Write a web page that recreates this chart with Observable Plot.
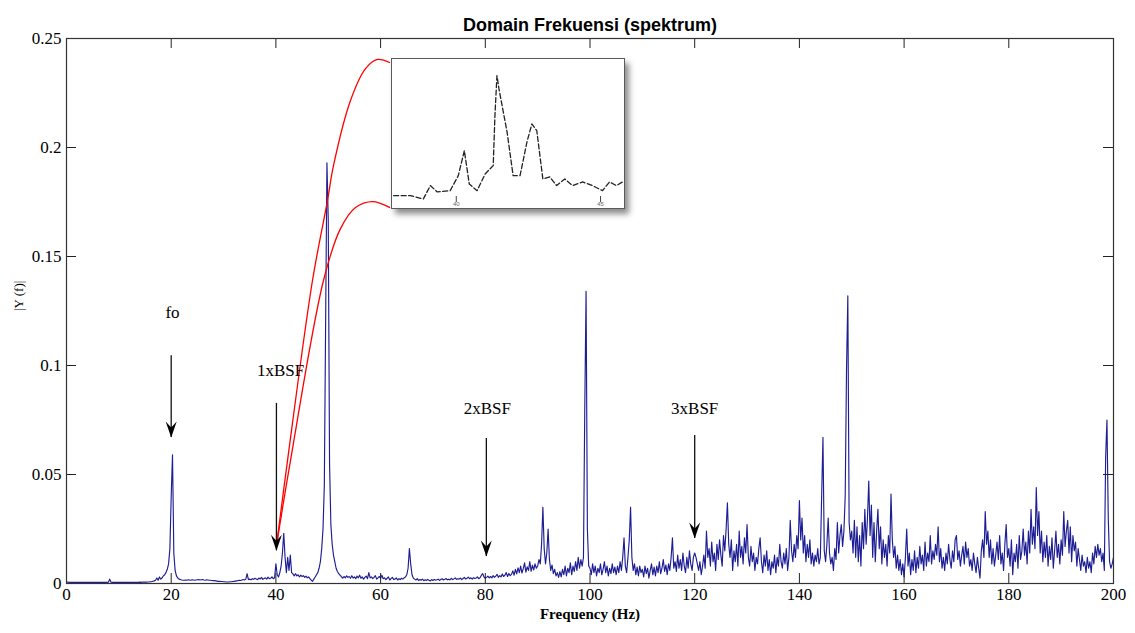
<!DOCTYPE html>
<html><head><meta charset="utf-8">
<script src="https://cdn.jsdelivr.net/npm/d3@7"></script>
<script src="https://cdn.jsdelivr.net/npm/@observablehq/plot@0.6"></script>
<style>
html,body{margin:0;padding:0;background:#fff;}
#wrap{position:relative;width:1135px;height:633px;overflow:hidden;background:#fff;}
#main svg{display:block}
#inset{position:absolute;left:391px;top:58px;width:232px;height:149px;border:1.5px solid #5a5a5a;background:#fff;box-shadow:4px 5px 6px rgba(0,0,0,0.45);}
#inset svg{display:block}
</style></head><body>
<div id="wrap"><div id="main"></div><div id="inset"></div></div>
<script>
// ---------- data ----------
const titleText = "Domain Frekuensi (spektrum)";
const xLabel = "Frequency (Hz)";
const yLabel = "|Y (f)|";
const xTicks = [0, 20, 40, 60, 80, 100, 120, 140, 160, 180, 200];
const yTicks = [0, 0.05, 0.1, 0.15, 0.2, 0.25];

// spectrum amplitude |Y(f)| in units of 1e-3, sampled every 0.25 Hz from 0 to 200 Hz
const freqStep = 0.25;
const ampMilli = [
  0.8,0.6,0.5,0.5,0.5,0.5,0.5,0.5,0.5,0.5,0.5,0.5,0.5,0.5,0.5,0.5,0.5,0.5,0.5,0.5, // 0
  0.5,0.5,0.5,0.5,0.5,0.5,0.5,0.5,0.5,0.5,0.5,0.5,0.6,2.0,0.6,0.5,0.5,0.5,0.5,0.5, // 5
  0.5,0.5,0.5,0.5,0.5,0.5,0.5,0.5,0.5,0.5,0.5,0.5,0.5,0.5,0.5,0.5,0.6,0.5,0.6,0.6, // 10
  0.6,0.6,0.7,0.7,0.8,0.8,1.0,1.2,1.5,2.5,1.5,3.0,2.0,2.5,3.5,4.0,5.0,6.5,9.0,16, // 15
  40,59,14,6,3.5,2.5,2.0,1.8,1.6,1.5,1.5,1.6,1.5,1.7,1.6,1.5,1.7,1.6,1.5,1.6, // 20
  1.7,1.8,1.6,1.7,1.8,1.6,1.5,1.7,1.6,1.5,1.5,1.4,1.3,1.3,1.2,1.1,1.0,1.0,0.9,0.9, // 25
  0.8,0.8,0.7,0.7,0.7,0.8,0.8,0.9,1.0,1.1,1.2,1.3,1.5,1.4,1.6,1.8,1.6,2.0,4.5,1.8, // 30
  2.0,1.7,2.2,1.9,2.4,2.0,1.8,2.5,2.1,2.8,1.9,2.3,2.6,2.0,2.9,2.2,2.4,3.0,2.2,2.6, // 35
  9,4,3,5,8,14,23,12,5,12,6,13,5,4.5,3.5,4.5,3.5,4,3,3.8, // 40
  3.2,3.6,2.8,3.4,2.6,3.0,2.2,1.5,1.0,2.0,3.0,4.0,5.0,7.0,10,16,25,45,120,193, // 45
  167,55,27,18,13,10,7,5.5,4.5,3.8,3.2,2.5,3.2,2.6,3.5,2.8,3.2,2.4,3.6,2.5, // 50
  3.0,2.2,3.4,2.6,3.8,2.4,3.0,2.0,2.8,3.4,2.2,5.0,2.6,3.0,2.2,2.8,3.6,2.0,2.6,3.2, // 55
  2.4,3.8,2.2,2.6,1.8,2.4,3.0,1.6,2.2,2.8,1.8,2.0,2.6,1.6,2.2,1.8,2.4,2.0,2.6,3.0, // 60
  4,7,16,9,4,2.5,2,1.6,2.2,1.4,1.8,1.5,2.0,1.3,1.7,1.4,1.9,1.5,1.2,1.8, // 65
  1.4,1.9,1.5,1.7,2.0,1.4,1.8,2.2,1.6,1.9,2.3,1.7,2.0,1.6,2.4,1.8,2.1,2.6,1.9,2.2, // 70
  2.0,2.5,1.8,2.3,2.8,2.0,2.4,2.9,2.2,2.6,2.0,2.7,2.3,2.5,3.0,2.2,2.6,3.8,4.5,3.0, // 75
  2.4,2.8,3.4,2.6,3.2,2.6,3.6,2.8,3.4,4.2,2.8,3.6,3.0,4.4,3.2,3.8,5.0,3.2,4.6,3.6, // 80
  4.2,5.8,3.8,6.5,4.4,7.2,5.0,8.0,4.8,6.8,9.5,5.2,7.6,6.0,10,5.6,8.4,6.2,9.0,7.0, // 85
  8,11,9,18,35,16,9,14,25,11,6,8.5,4.5,6.5,3.5,5,2.8,5.5,3.0,6.5, // 90
  4,8,3.5,7,5,9.5,4,8,5.5,10,6,12,7,11,8,12,80,134,25,8, // 95
  7,4,9,5,8,3.5,7,5,9,4,6.5,10,5,8,3.5,7,4.5,9,5,7.5, // 100
  4,8,5,10,6,12,21,8,5,12,20,35,12,6,9,4,7.5,3.5,8,5, // 105
  6.5,3,8,4.5,7,2.5,6,9,4,7.5,3.5,8,5,10,4.5,7,11,5.5,8.5,4, // 110
  9,6,12,21,7,10,5.5,13,7,11,6,14,8,5,12,7,15,9,6,12, // 115
  14,12,9,6,10,4,8,13,7,24,12,16,8,19,10,14,6,18,11,20, // 120
  13,8,22,15,25,37,18,12,20,6,15,10,18,8,24,12,17,9,21,14, // 125
  27,12,8,17,10,14,6,12,9,16,21,10,5,13,8,15,6,11,4,10, // 130
  7,13,5,12,8,18,10,7,14,9,16,6,12,29,15,10,18,12,22,16, // 135
  38,20,30,14,22,10,18,12,20,9,14,8,13,10,16,9,12,40,67,15, // 140
  10,18,30,14,9,12,6,16,11,28,14,22,27,17,24,40,98,132,28,20, // 145
  24,14,29,12,26,10,22,8,28,16,34,18,30,47,22,36,12,28,10,24, // 150
  34,16,26,9,20,12,18,8,22,14,41,20,12,17,7,13,6,11,4,9, // 155
  3,12,25,8,14,4,11,6,15,5,12,7,17,9,13,6,19,8,14,10, // 160
  22,9,15,11,18,13,26,10,16,7,12,6,14,9,18,11,7,15,10,20, // 165
  22,11,15,8,13,17,9,19,12,16,8,11,6,14,9,5,12,7,2.5,15, // 170
  20,12,33,18,24,12,20,9,16,8,13,19,11,22,9,14,6,18,27,12, // 175
  16,8,20,4,14,10,18,7,22,11,15,25,13,19,9,24,14,34,18,26, // 180
  16,44,22,33,14,24,10,19,12,22,8,17,11,21,7,15,24,12,18,9, // 185
  20,13,33,17,24,29,14,26,10,22,15,19,8,16,11,6,13,8,10,5, // 190
  12,7,10,5,14,9,17,12,18,13,16,10,14,6,58,75,30,10,7,9, // 195
  12 // 200
];

// annotation arrows
const arrowLabels = ["fo", "1xBSF", "2xBSF", "3xBSF"];
const arrowFreq = [20, 40.1, 80.2, 120];
const arrowStart = [0.1045, 0.0826, 0.0665, 0.0679];
const arrowTip = [0.067, 0.015, 0.0124, 0.0206];
const labelFreq = [20.25, 40.9, 80.4, 120];
const labelAmp = [0.1243, 0.0977, 0.0803, 0.0803];

// red connector curves (to the zoom inset)
const redUpperFreq = [40.11, 42.22, 46.99, 49.86, 51.0, 54.25, 57.12, 59.41, 61.70];
const redUpperAmp = [0.0174, 0.0564, 0.1390, 0.1757, 0.1917, 0.2216, 0.2362, 0.2404, 0.2390];
const redLowerFreq = [40.11, 42.79, 49.09, 52.34, 55.21, 58.45, 61.70];
const redLowerAmp = [0.0174, 0.0564, 0.1390, 0.1628, 0.1725, 0.1752, 0.1725];

// zoom inset (around 38–46 Hz)
const insetFreq = [37.83,38.41,38.86,39.10,39.34,39.79,40.07,40.28,40.45,40.72,41.0,41.28,41.34,41.41,41.48,41.76,41.97,42.21,42.45,42.62,42.79,43.0,43.24,43.48,43.76,44.03,44.38,44.72,45.07,45.31,45.55,45.76];
const insetAmp = [0.00115,0.00115,0.00055,0.00298,0.00183,0.00206,0.0048,0.00936,0.00329,0.00206,0.00511,0.00663,0.01575,0.02306,0.02063,0.01278,0.0048,0.0048,0.01095,0.01424,0.01302,0.0042,0.00456,0.00298,0.0042,0.00298,0.00365,0.00298,0.00206,0.00365,0.00298,0.00365];
const insetTicks = [40, 45];

// ---------- build ----------
const W = 1135, H = 633;
const mL = 66, mR = 22, mT = 38, mB = 50;
const plotW = W - mL - mR, plotH = H - mT - mB;
const tickLen = 10;

const spectrum = ampMilli.map((a, i) => ({f: i * freqStep, amp: a / 1000}));
const arrows = arrowLabels.map((t, i) => ({t, f: arrowFreq[i], y0: arrowStart[i], y1: arrowTip[i], lf: labelFreq[i], la: labelAmp[i]}));
const redUpper = redUpperFreq.map((f, i) => ({f, a: redUpperAmp[i]}));
const redLower = redLowerFreq.map((f, i) => ({f, a: redLowerAmp[i]}));
const inset = insetFreq.map((f, i) => ({f, a: insetAmp[i]}));

const arrowHead = {
  draw(ctx) {
    ctx.moveTo(0, 0);
    ctx.lineTo(-5.5, -16);
    ctx.lineTo(0, -10);
    ctx.lineTo(5.5, -16);
    ctx.closePath();
  }
};

const serif = "'Liberation Serif','Times New Roman',serif";
const sans = "'Liberation Sans',Arial,sans-serif";

const main = Plot.plot({
  width: W, height: H,
  marginLeft: mL, marginRight: mR, marginTop: mT, marginBottom: mB,
  style: {fontFamily: serif, fontSize: "17px", color: "#000", background: "#fff"},
  x: {type: "linear", domain: [0, 200]},
  y: {type: "linear", domain: [0, 0.25]},
  marks: [
    Plot.line(spectrum, {x: "f", y: "amp", stroke: "#1e1e94", strokeWidth: 1.15}),
    // inward ticks on all four sides
    Plot.ruleX(xTicks, {x: d => d, insetTop: plotH - tickLen, stroke: "#222", strokeWidth: 1}),
    Plot.ruleX(xTicks, {x: d => d, insetBottom: plotH - tickLen, stroke: "#222", strokeWidth: 1}),
    Plot.ruleY(yTicks, {y: d => d, insetRight: plotW - tickLen, stroke: "#222", strokeWidth: 1}),
    Plot.ruleY(yTicks, {y: d => d, insetLeft: plotW - tickLen, stroke: "#222", strokeWidth: 1}),
    Plot.frame({stroke: "#333", strokeWidth: 1.2}),
    Plot.axisX(xTicks, {tickSize: 0, tickPadding: 4, fontSize: 17, label: null, fontFamily: serif}),
    Plot.axisY(yTicks, {tickSize: 0, tickPadding: 5, fontSize: 17, label: null, fontFamily: serif, tickFormat: d => String(d)}),
    // red connectors
    Plot.line(redUpper, {x: "f", y: "a", curve: "catmull-rom", stroke: "#ff0000", strokeWidth: 1.3}),
    Plot.line(redLower, {x: "f", y: "a", curve: "catmull-rom", stroke: "#ff0000", strokeWidth: 1.3}),
    // arrows
    Plot.ruleX(arrows, {x: "f", y1: "y0", y2: "y1", stroke: "#111", strokeWidth: 1.3}),
    Plot.dot(arrows, {x: "f", y: "y1", symbol: arrowHead, fill: "#000", stroke: "none", r: 5}),
    Plot.text(arrows, {x: "lf", y: "la", text: "t", fontSize: 17, fontFamily: serif, fill: "#000"}),
    // titles
    Plot.text([titleText], {frameAnchor: "top", dy: -20, text: d => d, fontFamily: sans, fontWeight: "bold", fontSize: 18, fill: "#000"}),
    Plot.text([xLabel], {frameAnchor: "bottom", dy: 35, text: d => d, fontFamily: serif, fontWeight: "bold", fontSize: 15, fill: "#000"}),
    Plot.text([yLabel], {frameAnchor: "left", dx: -48, rotate: -90, text: d => d, fontFamily: serif, fontSize: 13, fill: "#000"})
  ]
});
document.getElementById("main").appendChild(main);

const insetW = 232, insetH = 149;
const insetPlot = Plot.plot({
  width: insetW, height: insetH, margin: 0,
  style: {background: "#fff"},
  x: {type: "linear", domain: [37.79, 45.83], axis: null},
  y: {type: "linear", domain: [-0.0012, 0.026], axis: null},
  marks: [
    Plot.line(inset, {x: "f", y: "a", stroke: "#222", strokeWidth: 1.3, strokeDasharray: "5,2.5"}),
    Plot.ruleX(insetTicks, {x: d => d, insetTop: insetH - 12, insetBottom: 6, stroke: "#444"}),
    Plot.text(insetTicks, {x: d => d, frameAnchor: "bottom", dy: -3, text: d => String(d), fontSize: 6, fill: "#666", fontFamily: sans})
  ]
});
document.getElementById("inset").appendChild(insetPlot);
</script>
</body></html>
